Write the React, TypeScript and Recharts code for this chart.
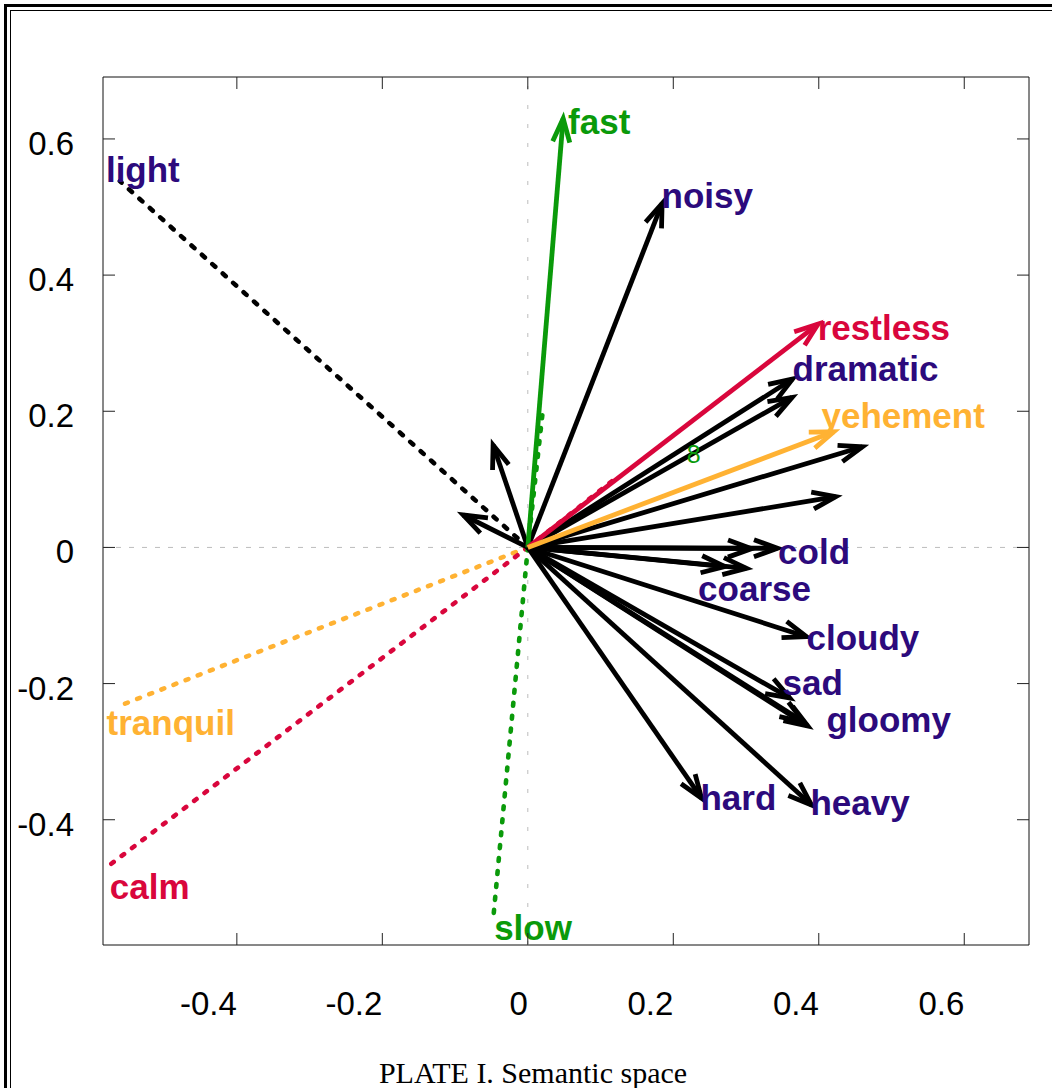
import { ScatterChart, Scatter, XAxis, YAxis, ReferenceLine, ReferenceArea } from 'recharts';

const W = 1052;
const H = 1088;
// plot box in page pixels
const PLOT = { left: 103, top: 77, right: 1029, bottom: 945 };

const X_DOMAIN: [number, number] = [-0.584, 0.689];
const Y_DOMAIN: [number, number] = [-0.584, 0.691];
const X_TICKS = [-0.4, -0.2, 0, 0.2, 0.4, 0.6];
const Y_TICKS = [-0.4, -0.2, 0, 0.2, 0.4, 0.6];

// labelled adjectives, drawn as solid arrows from the origin
const POLES = [
  { term: 'fast', x: 0.0486, y: 0.63, scale: 'tempo' },
  { term: 'noisy', x: 0.1846, y: 0.5053, scale: 'plain' },
  { term: 'restless', x: 0.399, y: 0.328, scale: 'tension' },
  { term: 'dramatic', x: 0.3639, y: 0.2473, scale: 'plain' },
  { term: 'yehement', x: 0.4206, y: 0.1699, scale: 'force' },
  { term: 'cold', x: 0.3432, y: -0.0013, scale: 'plain' },
  { term: 'coarse', x: 0.3006, y: -0.0307, scale: 'plain' },
  { term: 'cloudy', x: 0.3831, y: -0.1311, scale: 'plain' },
  { term: 'sad', x: 0.3601, y: -0.2211, scale: 'plain' },
  { term: 'gloomy', x: 0.3849, y: -0.2623, scale: 'plain' },
  { term: 'hard', x: 0.2388, y: -0.3684, scale: 'plain' },
  { term: 'heavy', x: 0.39, y: -0.3783, scale: 'plain' },
];

// unlabelled adjectives
const OTHER_ARROWS = [
  { x: 0.3633, y: 0.2204 },
  { x: 0.4601, y: 0.1479 },
  { x: 0.4234, y: 0.0745 },
  { x: 0.3075, y: -0.0019 },
  { x: 0.2708, y: -0.0281 },
  { x: 0.3794, y: -0.2565 },
  { x: -0.0477, y: 0.1504 },
  { x: -0.0889, y: 0.0476 },
];

// opposite poles, dotted, no head
const OPPOSITES = [
  { term: 'light', x: -0.5608, y: 0.538, scale: 'plain' },
  { term: 'tranquil', x: -0.5585, y: -0.2314, scale: 'force' },
  { term: 'calm', x: -0.5746, y: -0.4663, scale: 'tension' },
  { term: 'slow', x: -0.0477, y: -0.5472, scale: 'tempo' },
];

// short dotted traces running beside two of the arrows
const ECHOES = [
  { x: 0.12, y: 0.101, scale: 'tension' },
  { x: 0.0202, y: 0.197, scale: 'tempo' },
];

// where each word starts (left end of its baseline)
const WORD_AT = [
  { term: 'fast', x: 0.0554, y: 0.608 },
  { term: 'noisy', x: 0.1838, y: 0.498 },
  { term: 'restless', x: 0.3986, y: 0.3046 },
  { term: 'dramatic', x: 0.3639, y: 0.2448 },
  { term: 'yehement', x: 0.4037, y: 0.1749 },
  { term: 'cold', x: 0.3441, y: -0.0244 },
  { term: 'coarse', x: 0.2341, y: -0.0787 },
  { term: 'cloudy', x: 0.3831, y: -0.1507 },
  { term: 'sad', x: 0.3501, y: -0.2167 },
  { term: 'gloomy', x: 0.4106, y: -0.2706 },
  { term: 'hard', x: 0.2374, y: -0.3856 },
  { term: 'heavy', x: 0.3886, y: -0.393 },
  { term: 'light', x: -0.58, y: 0.537 },
  { term: 'tranquil', x: -0.5791, y: -0.2755 },
  { term: 'calm', x: -0.5746, y: -0.5167 },
  { term: 'slow', x: -0.0463, y: -0.5765 },
];

const STRAY_MARKS = [{ text: '8', x: 0.2185, y: 0.1239 }];

const LINE_COLOURS: Record<string, string> = {
  plain: '#000000',
  tempo: '#0a9a0a',
  tension: '#d9063c',
  force: '#ffb233',
};
const WORD_COLOURS: Record<string, string> = {
  plain: '#2c0a7c',
  tempo: '#0a9a0a',
  tension: '#d9063c',
  force: '#ffb233',
};

const SANS = "'Liberation Sans', Arial, Helvetica, sans-serif";
const HEAD_LEN = 25;
const HEAD_ANGLE = (20 * Math.PI) / 180;

const scaleOf = (term: string) =>
  [...POLES, ...OPPOSITES].find((d) => d.term === term)?.scale ?? 'plain';

const words = WORD_AT.map((w) => ({ ...w, scale: scaleOf(w.term) }));

function vector(colour: string, kind: 'solid' | 'dotted' | 'dashed') {
  return (p: any) => {
    const { x1, y1, x2, y2 } = p;
    const len = Math.hypot(x2 - x1, y2 - y1) || 1;
    const bx = (x1 - x2) / len;
    const by = (y1 - y2) / len;
    const c = Math.cos(HEAD_ANGLE);
    const s = Math.sin(HEAD_ANGLE);
    const dash = kind === 'dotted' ? '3 10' : kind === 'dashed' ? '4 10' : undefined;
    return (
      <g>
        <line
          x1={x1}
          y1={y1}
          x2={x2}
          y2={y2}
          stroke={colour}
          strokeWidth={kind === 'solid' ? 4.8 : 4.6}
          strokeDasharray={dash}
          strokeLinecap={kind === 'solid' ? 'butt' : 'round'}
        />
        {kind === 'solid' && (
          <polyline
            points={`${x2 + HEAD_LEN * (bx * c - by * s)},${y2 + HEAD_LEN * (bx * s + by * c)} ${x2},${y2} ${
              x2 + HEAD_LEN * (bx * c + by * s)
            },${y2 + HEAD_LEN * (-bx * s + by * c)}`}
            fill="none"
            stroke={colour}
            strokeWidth={4.8}
            strokeLinejoin="miter"
          />
        )}
      </g>
    );
  };
}

const XTick = (p: any) => {
  const x = p.x;
  return (
    <g>
      <line x1={x} x2={x} y1={PLOT.bottom} y2={PLOT.bottom - 12} stroke="#222" />
      <line x1={x} x2={x} y1={PLOT.top} y2={PLOT.top + 12} stroke="#222" />
      <text x={x} y={1015} textAnchor="end" fontFamily={SANS} fontSize={33} fill="#000">
        {String(p.payload.value)}
      </text>
    </g>
  );
};

const YTick = (p: any) => {
  const y = p.y;
  return (
    <g>
      <line x1={PLOT.left} x2={PLOT.left + 12} y1={y} y2={y} stroke="#222" />
      <line x1={PLOT.right} x2={PLOT.right - 12} y1={y} y2={y} stroke="#222" />
      <text x={74} y={y + 16} textAnchor="end" fontFamily={SANS} fontSize={33} fill="#000">
        {String(p.payload.value)}
      </text>
    </g>
  );
};

const Word = (p: any) => (
  <text
    x={p.cx}
    y={p.cy}
    fontFamily={SANS}
    fontWeight="bold"
    fontSize={35}
    fill={WORD_COLOURS[p.payload.scale]}
  >
    {p.payload.term}
  </text>
);

const Stray = (p: any) => (
  <text x={p.cx} y={p.cy} fontFamily={SANS} fontSize={25} fill={LINE_COLOURS.tempo}>
    {p.payload.text}
  </text>
);

export default function App() {
  const origin = { x: 0, y: 0 };
  return (
    <div style={{ position: 'absolute', left: 0, top: 0, width: W, height: H, background: '#fff' }}>
      <ScatterChart
        width={W}
        height={H}
        margin={{ top: PLOT.top, right: W - PLOT.right, bottom: 0, left: 0 }}
      >
        <XAxis
          type="number"
          dataKey="x"
          domain={X_DOMAIN}
          ticks={X_TICKS}
          allowDataOverflow
          height={H - PLOT.bottom}
          axisLine={false}
          tickLine={false}
          tick={<XTick />}
          interval={0}
        />
        <YAxis
          type="number"
          dataKey="y"
          domain={Y_DOMAIN}
          ticks={Y_TICKS}
          allowDataOverflow
          width={PLOT.left}
          axisLine={false}
          tickLine={false}
          tick={<YTick />}
          interval={0}
        />
        <ReferenceArea
          x1={X_DOMAIN[0]}
          x2={X_DOMAIN[1]}
          y1={Y_DOMAIN[0]}
          y2={Y_DOMAIN[1]}
          fill="none"
          fillOpacity={0}
          stroke="#111"
          strokeWidth={1}
          ifOverflow="visible"
        />
        <ReferenceLine x={0} stroke="#bdbdbd" strokeDasharray="4 15" />
        <ReferenceLine y={0} stroke="#bdbdbd" strokeDasharray="5 8" />
        {OPPOSITES.map((d) => (
          <ReferenceLine
            key={'o' + d.term}
            segment={[origin, { x: d.x, y: d.y }]}
            ifOverflow="visible"
            shape={vector(LINE_COLOURS[d.scale], d.scale === 'plain' ? 'dashed' : 'dotted')}
          />
        ))}
        {ECHOES.map((d, i) => (
          <ReferenceLine
            key={'e' + i}
            segment={[origin, { x: d.x, y: d.y }]}
            ifOverflow="visible"
            shape={vector(LINE_COLOURS[d.scale], 'dotted')}
          />
        ))}
        {OTHER_ARROWS.map((d, i) => (
          <ReferenceLine
            key={'a' + i}
            segment={[origin, { x: d.x, y: d.y }]}
            ifOverflow="visible"
            shape={vector(LINE_COLOURS.plain, 'solid')}
          />
        ))}
        {POLES.filter((d) => d.scale === 'plain').map((d) => (
          <ReferenceLine
            key={'p' + d.term}
            segment={[origin, { x: d.x, y: d.y }]}
            ifOverflow="visible"
            shape={vector(LINE_COLOURS.plain, 'solid')}
          />
        ))}
        {POLES.filter((d) => d.scale !== 'plain').map((d) => (
          <ReferenceLine
            key={'c' + d.term}
            segment={[origin, { x: d.x, y: d.y }]}
            ifOverflow="visible"
            shape={vector(LINE_COLOURS[d.scale], 'solid')}
          />
        ))}
        <Scatter data={STRAY_MARKS} shape={<Stray />} isAnimationActive={false} />
        <Scatter data={words} shape={<Word />} isAnimationActive={false} />
      </ScatterChart>
      <svg
        width={W}
        height={H}
        style={{ position: 'absolute', left: 0, top: 0, pointerEvents: 'none' }}
      >
        <line x1={5.5} y1={4} x2={5.5} y2={H} stroke="#000" strokeWidth={3} />
        <line x1={4} y1={5.5} x2={W} y2={5.5} stroke="#000" strokeWidth={3} />
        <line x1={10.5} y1={10} x2={10.5} y2={H} stroke="#000" strokeWidth={1} />
        <line x1={10} y1={10.5} x2={W} y2={10.5} stroke="#000" strokeWidth={1} />
        <text
          x={533}
          y={1083}
          textAnchor="middle"
          fontFamily="'Liberation Serif', 'Times New Roman', serif"
          fontSize={30}
          fill="#000"
        >
          PLATE I. Semantic space
        </text>
      </svg>
    </div>
  );
}
